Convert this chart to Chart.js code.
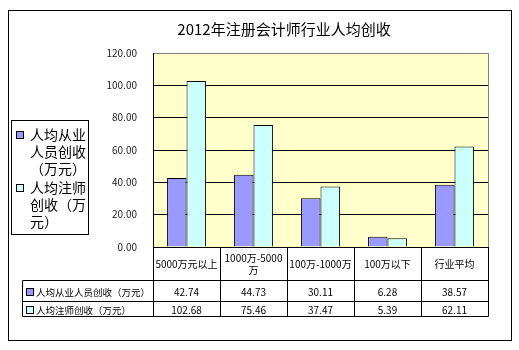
<!DOCTYPE html>
<html>
<head>
<meta charset="utf-8">
<script src="https://cdn.jsdelivr.net/npm/chart.js@4/dist/chart.umd.min.js"></script>
<style>
html,body{margin:0;padding:0;background:#fff;}
canvas{display:block;}
</style>
</head>
<body>
<canvas id="c" width="519" height="350"></canvas>
<script>
const chartTitle = '2012年注册会计师行业人均创收';
const categories = ['5000万元以上', ['1000万-5000', '万'], '100万-1000万', '100万以下', '行业平均'];
const seriesNames = ['人均从业人员创收（万元）', '人均注师创收（万元）'];
const perStaff = [42.74, 44.73, 30.11, 6.28, 38.57];
const perCPA = [102.68, 75.46, 37.47, 5.39, 62.11];
const yTicks = [0, 20, 40, 60, 80, 100, 120];
const colors = ['#9999FF', '#CCFFFF'];

const FONT = "'Noto Sans CJK SC', 'Noto Sans', sans-serif";

const decor = {
  id: 'decor',
  beforeDraw(chart) {
    const {ctx, chartArea: a} = chart;
    ctx.save();
    ctx.fillStyle = '#fff';
    ctx.fillRect(0, 0, chart.width, chart.height);
    ctx.fillStyle = '#FFFFCC';
    ctx.fillRect(a.left, a.top, a.right - a.left, a.bottom - a.top);
    ctx.restore();
  },
  afterDraw(chart) {
    const {ctx, chartArea: a} = chart;
    ctx.save();
    // outer border
    ctx.strokeStyle = '#000';
    ctx.lineWidth = 1;
    ctx.strokeRect(8.5, 10.5, 503, 330);
    // plot right border (grey)
    ctx.strokeStyle = '#808080';
    ctx.beginPath();
    ctx.moveTo(Math.round(a.right) + 0.5, a.top);
    ctx.lineTo(Math.round(a.right) + 0.5, a.bottom);
    ctx.stroke();
    // title
    ctx.fillStyle = '#000';
    ctx.font = '15px ' + FONT;
    ctx.textAlign = 'center';
    ctx.textBaseline = 'middle';
    ctx.fillText(chartTitle, 284, 29);

    // legend
    ctx.strokeStyle = '#000';
    ctx.strokeRect(11.5, 120.5, 77, 114);
    ctx.font = '14px ' + FONT;
    ctx.textAlign = 'left';
    const starts = [135, 188];
    chart.data.datasets.forEach((ds, i) => {
      const lines = wrap(ctx, ds.label, 58);
      const y0 = starts[i];
      ctx.fillStyle = ds.backgroundColor;
      ctx.fillRect(17, y0 - 3, 6, 6);
      ctx.strokeStyle = '#000';
      ctx.strokeRect(16.5, y0 - 3.5, 7, 7);
      ctx.fillStyle = '#000';
      lines.forEach((ln, k) => ctx.fillText(ln, 30, y0 + k * 16.8));
    });

    // data table
    const xs = chart.scales.x;
    const n = chart.data.labels.length;
    const cw = (a.right - a.left) / n;
    const L = Math.round(a.left) + 0.5, R = Math.round(a.right) + 0.5;
    const yTop = Math.round(a.bottom) + 0.5;
    const y1 = 280.5, y2 = 301.5, y3 = 316.5, xl = 22.5;
    ctx.strokeStyle = '#000';
    ctx.beginPath();
    for (let i = 0; i <= n; i++) {
      const x = Math.round(a.left + i * cw) + 0.5;
      ctx.moveTo(x, yTop); ctx.lineTo(x, y3);
    }
    ctx.moveTo(xl, y1); ctx.lineTo(R, y1);
    ctx.moveTo(xl, y2); ctx.lineTo(R, y2);
    ctx.moveTo(xl, y3); ctx.lineTo(R, y3);
    ctx.moveTo(xl, y1); ctx.lineTo(xl, y3);
    ctx.stroke();

    ctx.fillStyle = '#000';
    ctx.textAlign = 'center';
    ctx.font = '10px ' + FONT;
    chart.data.labels.forEach((lab, i) => {
      const cx = xs.getPixelForValue(i);
      const lines = Array.isArray(lab) ? lab : [lab];
      const lh = 12.5;
      const cy = 264 - (lines.length - 1) * lh / 2;
      lines.forEach((ln, k) => ctx.fillText(ln, cx, cy + k * lh));
    });
    const rowY = [292, 310];
    chart.data.datasets.forEach((ds, r) => {
      ctx.save();
      ctx.beginPath();
      ctx.rect(0, r === 0 ? y1 : y2, chart.width, (r === 0 ? y2 - y1 : y3 - y2));
      ctx.clip();
      ctx.font = '10px ' + FONT;
      ctx.textAlign = 'center';
      ctx.fillStyle = '#000';
      ds.data.forEach((v, i) => {
        ctx.fillText(v.toFixed(2), xs.getPixelForValue(i), rowY[r]);
      });
      ctx.font = '9.5px ' + FONT;
      ctx.textAlign = 'left';
      const my = rowY[r];
      ctx.fillStyle = ds.backgroundColor;
      ctx.fillRect(27, my - 3, 6, 6);
      ctx.strokeStyle = '#000';
      ctx.strokeRect(26.5, my - 3.5, 7, 7);
      ctx.fillStyle = '#000';
      ctx.fillText(ds.label, 36, my);
      ctx.restore();
    });
    ctx.restore();
  }
};

function wrap(ctx, text, maxW) {
  const out = [];
  let cur = '';
  for (const ch of text) {
    if (ctx.measureText(cur + ch).width > maxW && cur) { out.push(cur); cur = ch; }
    else cur += ch;
  }
  if (cur) out.push(cur);
  return out;
}

new Chart(document.getElementById('c'), {
  type: 'bar',
  data: {
    labels: categories,
    datasets: [
      {label: seriesNames[0], data: perStaff, backgroundColor: colors[0], borderColor: '#000', borderWidth: 1},
      {label: seriesNames[1], data: perCPA, backgroundColor: colors[1], borderColor: '#000', borderWidth: 1}
    ]
  },
  options: {
    responsive: false,
    animation: false,
    layout: {padding: {top: 53, bottom: 103, right: 31, left: 0}},
    datasets: {bar: {categoryPercentage: 0.58, barPercentage: 1.0}},
    plugins: {legend: {display: false}, title: {display: false}, tooltip: {enabled: false}},
    scales: {
      x: {
        ticks: {display: false},
        grid: {display: false, drawTicks: false},
        border: {display: true, color: '#000', width: 1},
        afterFit(s) { s.height = 0; }
      },
      y: {
        min: 0, max: 120,
        afterBuildTicks(s) { s.ticks = yTicks.map(v => ({value: v})); },
        ticks: {
          padding: 16,
          color: '#222',
          font: {size: 10, family: FONT},
          callback: v => Number(v).toFixed(2)
        },
        grid: {
          drawTicks: false,
          color: c => (c.tick && c.tick.value === 120) ? '#808080' : '#000',
          lineWidth: 1
        },
        border: {display: true, color: '#000', width: 1},
        afterFit(s) { s.width = 153; }
      }
    }
  },
  plugins: [decor]
});
</script>
</body>
</html>
